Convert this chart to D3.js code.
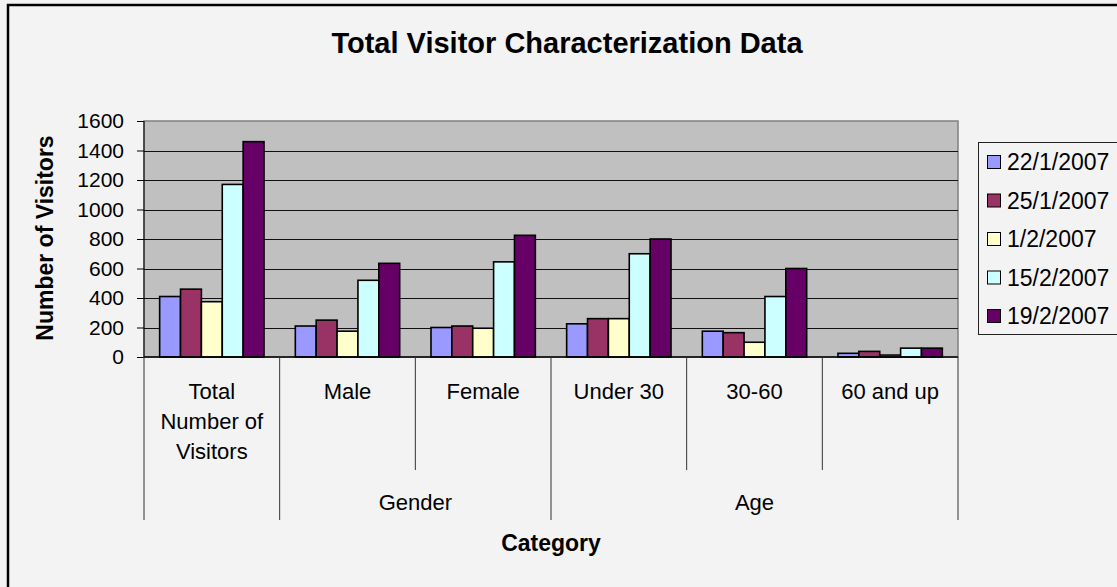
<!DOCTYPE html>
<meta charset="utf-8">
<style>

body {
  margin: 0;
  background: #f3f3f3;
}

svg {
  font-family: Arial, "Liberation Sans", sans-serif;
}

.axis path {
  display: none;
}

.axis line {
  stroke: #000;
}

.axis text {
  font-size: 21px;
  fill: #000;
}

.grid line {
  stroke: #111;
  stroke-width: 1px;
}

.bar {
  stroke: #000;
  stroke-width: 1.6px;
}

.cat-label, .group-label {
  font-size: 22px;
}

.title {
  font-size: 29px;
  font-weight: bold;
}

.axis-title {
  font-size: 23px;
  font-weight: bold;
}

.legend text {
  font-size: 23px;
}

</style>
<svg width="1117" height="587"></svg>

<script src="https://d3js.org/d3.v7.min.js"></script>
<script>

// data
var categories = ["Total Number of Visitors", "Male", "Female", "Under 30", "30-60", "60 and up"];
var categoryLines = [["Total", "Number of", "Visitors"], ["Male"], ["Female"], ["Under 30"], ["30-60"], ["60 and up"]];
var groups = ["", "Gender", "Gender", "Age", "Age", "Age"];
var seriesNames = ["22/1/2007", "25/1/2007", "1/2/2007", "15/2/2007", "19/2/2007"];
var seriesColors = ["#9999ff", "#993366", "#ffffcc", "#ccffff", "#660066"];
var yTicks = [0, 200, 400, 600, 800, 1000, 1200, 1400, 1600];

var s22jan = [410, 210, 200, 225, 175, 25];
var s25jan = [460, 250, 210, 260, 165, 38];
var s1feb = [375, 175, 195, 260, 100, 13];
var s15feb = [1170, 520, 645, 700, 410, 60];
var s19feb = [1460, 635, 825, 800, 600, 60];
var seriesValues = [s22jan, s25jan, s1feb, s15feb, s19feb];

var svg = d3.select("svg"),
    plot = {left: 144, right: 958, top: 121, bottom: 357};

// outer chart frame (runs off the right and bottom edge)
svg.append("rect")
    .attr("x", 8)
    .attr("y", 5)
    .attr("width", 1140)
    .attr("height", 620)
    .attr("fill", "#f3f3f3")
    .attr("stroke", "#000")
    .attr("stroke-width", 2.5);

var x = d3.scaleBand()
    .domain(categories)
    .range([plot.left, plot.right])
    .paddingInner(0);

var xs = d3.scaleBand()
    .domain(seriesNames)
    .range([0, x.bandwidth()])
    .paddingOuter(0.75)
    .paddingInner(0);

var y = d3.scaleLinear()
    .domain([0, 1600])
    .range([plot.bottom, plot.top]);

// plot area
svg.append("rect")
    .attr("x", plot.left)
    .attr("y", plot.top)
    .attr("width", plot.right - plot.left)
    .attr("height", plot.bottom - plot.top)
    .attr("fill", "#c0c0c0")
    .attr("stroke", "#808080")
    .attr("stroke-width", 1.5);

svg.append("g")
    .attr("class", "grid")
  .selectAll("line")
  .data(yTicks.slice(1, -1))
  .enter().append("line")
    .attr("x1", plot.left)
    .attr("x2", plot.right)
    .attr("y1", function(d) { return Math.round(y(d)) + 0.5; })
    .attr("y2", function(d) { return Math.round(y(d)) + 0.5; });

// bars
var series = svg.append("g")
  .selectAll("g")
  .data(seriesNames)
  .enter().append("g")
    .attr("fill", function(d, i) { return seriesColors[i]; });

series.selectAll("rect")
  .data(function(d, i) {
    return seriesValues[i].map(function(v, j) { return {series: d, cat: categories[j], value: v}; });
  })
  .enter().append("rect")
    .attr("class", "bar")
    .attr("x", function(d) { return x(d.cat) + xs(d.series); })
    .attr("y", function(d) { return y(d.value); })
    .attr("width", xs.bandwidth())
    .attr("height", function(d) { return y(0) - y(d.value); });

// y axis
svg.append("g")
    .attr("class", "axis")
    .attr("transform", "translate(" + plot.left + ",0)")
    .call(d3.axisLeft(y).tickValues(yTicks).tickFormat(d3.format("d")).tickSize(7).tickPadding(13));

svg.append("line")
    .attr("x1", plot.left)
    .attr("x2", plot.left)
    .attr("y1", plot.top)
    .attr("y2", plot.bottom)
    .attr("stroke", "#000");

svg.append("line")
    .attr("x1", plot.left)
    .attr("x2", plot.right)
    .attr("y1", plot.bottom)
    .attr("y2", plot.bottom)
    .attr("stroke", "#000")
    .attr("stroke-width", 1.5);

// category axis, two levels
var bounds = categories.map(function(c) { return x(c); }).concat([plot.right]);
svg.append("g")
  .selectAll("line")
  .data(bounds)
  .enter().append("line")
    .attr("x1", function(d) { return d; })
    .attr("x2", function(d) { return d; })
    .attr("y1", plot.bottom)
    .attr("y2", function(d, i) {
      var long = i == 0 || i == bounds.length - 1 || groups[i] != groups[i - 1];
      return long ? 520 : 470;
    })
    .attr("stroke", "#333");

svg.append("g")
  .selectAll("text")
  .data(categories)
  .enter().append("text")
    .attr("class", "cat-label")
    .attr("text-anchor", "middle")
    .attr("x", function(d) { return x(d) + x.bandwidth() / 2; })
    .attr("y", 399)
  .selectAll("tspan")
  .data(function(d, i) { return categoryLines[i]; })
  .enter().append("tspan")
    .attr("x", function() { var c = this.parentNode.__data__; return x(c) + x.bandwidth() / 2; })
    .attr("dy", function(d, i) { return i == 0 ? 0 : 30; })
    .text(function(d) { return d; });

var groupNames = ["Gender", "Age"];
svg.append("g")
  .selectAll("text")
  .data(groupNames)
  .enter().append("text")
    .attr("class", "group-label")
    .attr("text-anchor", "middle")
    .attr("x", function(g) {
      var cats = categories.filter(function(c, i) { return groups[i] == g; });
      return (x(cats[0]) + x(cats[cats.length - 1]) + x.bandwidth()) / 2;
    })
    .attr("y", 510)
    .text(function(d) { return d; });

// titles
svg.append("text")
    .attr("class", "title")
    .attr("text-anchor", "middle")
    .attr("x", 567)
    .attr("y", 53)
    .text("Total Visitor Characterization Data");

svg.append("text")
    .attr("class", "axis-title")
    .attr("text-anchor", "middle")
    .attr("x", 551)
    .attr("y", 551)
    .text("Category");

svg.append("text")
    .attr("class", "axis-title")
    .attr("text-anchor", "middle")
    .attr("transform", "translate(53,238) rotate(-90)")
    .text("Number of Visitors");

// legend
var legend = svg.append("g")
    .attr("class", "legend");

legend.append("rect")
    .attr("x", 978.5)
    .attr("y", 142.5)
    .attr("width", 200)
    .attr("height", 192)
    .attr("fill", "#f3f3f3")
    .attr("stroke", "#222");

var item = legend.selectAll(".item")
  .data(seriesNames)
  .enter().append("g")
    .attr("class", "item")
    .attr("transform", function(d, i) { return "translate(0," + (162 + i * 38.5) + ")"; });

item.append("rect")
    .attr("x", 987.5)
    .attr("y", -6.5)
    .attr("width", 13)
    .attr("height", 13)
    .attr("fill", function(d, i) { return seriesColors[i]; })
    .attr("stroke", "#000");

item.append("text")
    .attr("x", 1007)
    .attr("dy", "0.35em")
    .text(function(d) { return d; });

</script>
